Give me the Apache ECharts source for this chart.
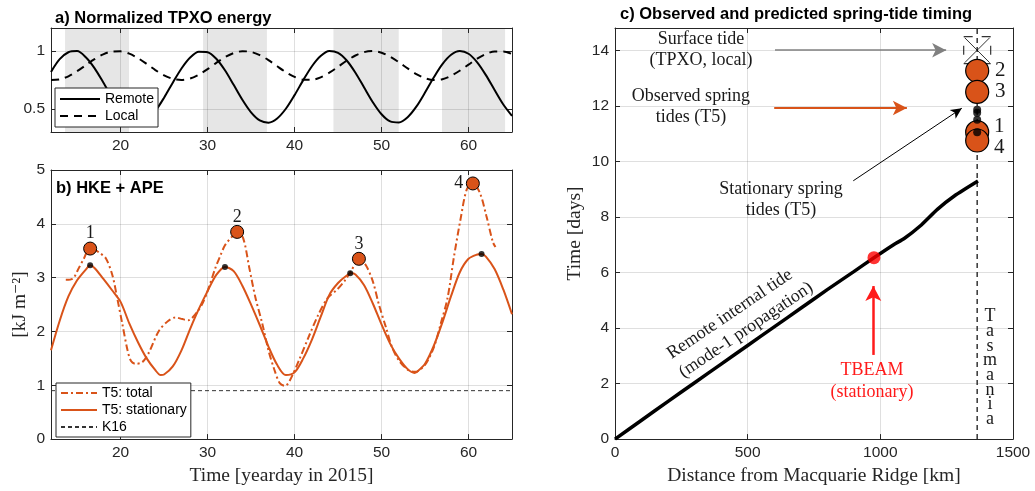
<!DOCTYPE html>
<html><head><meta charset="utf-8">
<script src="https://cdn.jsdelivr.net/npm/echarts@6/dist/echarts.min.js"></script>
<style>html,body{margin:0;padding:0;background:#fff}#c{width:1035px;height:491px}</style>
</head><body><div id="c"></div>
<script>
// ---------------- data ----------------
// a) normalized TPXO energy (yearday)
const tpxoDays = [12,13,14,15,16,17,18,19,20,21,22,23,24,25,26,27,28,29,30,31,32,33,34,35,36,37,38,39,40,41,42,43,44,45,46,47,48,49,50,51,52,53,54,55,56,57,58,59,60,61,62,63,64,65];
const remoteEnergy = [0.82,0.93,0.99,1.0,0.947,0.853,0.73,0.60,0.486,0.408,0.38,0.407,0.483,0.597,0.727,0.85,0.945,0.995,0.991,0.934,0.834,0.708,0.579,0.47,0.40,0.381,0.417,0.501,0.619,0.749,0.869,0.957,1.0,0.985,0.919,0.813,0.685,0.558,0.454,0.392,0.383,0.428,0.519,0.641,0.771,0.887,0.968,1.0,0.977,0.903,0.792,0.663,0.538,0.44];
const localEnergy = [0.751,0.756,0.782,0.826,0.878,0.930,0.972,0.996,0.998,0.978,0.939,0.889,0.836,0.790,0.760,0.750,0.763,0.797,0.844,0.898,0.947,0.983,0.999,0.993,0.966,0.922,0.869,0.818,0.777,0.753,0.752,0.773,0.813,0.864,0.917,0.962,0.991,1.0,0.986,0.951,0.903,0.850,0.801,0.766,0.750,0.757,0.786,0.831,0.883,0.935,0.975,0.997,0.997,0.975];
// shaded spring periods (yearday)
const bandStart = [13.64, 29.5, 44.5, 56.95];
const bandEnd   = [20.97, 36.8, 51.95, 64.2];
// b) HKE + APE [kJ m^-2]
const totalDays = [13.7,14.5,15.2,15.8,16.4,17,17.5,18.3,19.05,19.6,20.2,20.8,21.2,21.7,22.5,23.2,24.4,25.5,26.3,27.1,27.8,28.6,29.35,30,30.9,31.5,32,32.8,33.4,34.1,34.8,35.5,36.3,37,37.7,38.3,38.9,39.4,40.5,41.6,42.7,43.8,44.9,45.8,46.6,47.4,48.2,49,49.7,50.5,51.2,52,53.1,53.9,55,56,56.8,57.6,58.3,59.1,59.8,60.5,61.3,62.05,62.8,63.1];
const totalEnergy = [2.96,2.98,3.18,3.36,3.54,3.52,3.47,3.36,3.05,2.63,2.14,1.65,1.45,1.4,1.43,1.59,2.01,2.2,2.26,2.23,2.21,2.32,2.5,2.75,3.18,3.42,3.6,3.76,3.85,3.73,3.18,2.63,2.14,1.65,1.28,1.04,0.99,1.07,1.46,1.89,2.3,2.62,2.78,2.95,3.15,3.35,3.23,2.93,2.5,2.08,1.71,1.46,1.28,1.25,1.38,1.7,2.14,2.63,3.36,4.1,4.64,4.75,4.58,4.15,3.66,3.57];
const statDays = [12,13,14,15,16,16.5,17,18,19,20,21,22,23,24,24.6,25,26,27,28,29,30,31,32,33,34,35,36,37,38,39,40,41,42,43,44,45,46,46.5,47,48,49,50,51,52,53,53.8,54,55,56,57,58,59,60,61,61.5,62,63,64,65];
const statEnergy = [1.65,2.2,2.65,2.95,3.15,3.23,3.18,2.98,2.77,2.55,2.15,1.8,1.5,1.28,1.19,1.2,1.35,1.65,2.05,2.42,2.75,3.05,3.2,3.12,2.85,2.5,2.12,1.72,1.38,1.19,1.24,1.5,1.85,2.27,2.68,2.9,3.04,3.08,3.06,2.86,2.52,2.13,1.77,1.5,1.3,1.23,1.24,1.4,1.73,2.17,2.66,3.1,3.35,3.43,3.44,3.39,3.16,2.78,2.32];
const k16Level = 0.9;
const springLabels = ['1','2','3','4'];
const obsPeakDays = [16.5, 33.4, 47.4, 60.5];
const obsPeakEnergy = [3.54, 3.85, 3.35, 4.75];
const statPeakDays = [16.5, 32.0, 46.4, 61.5];
const statPeakEnergy = [3.23, 3.2, 3.08, 3.44];
// c) spring-tide timing
const modeDistance = [0,100,200,300,400,500,600,700,800,900,976,1050,1090,1150,1215,1280,1368];
const modeTime = [0,0.68,1.36,2.03,2.7,3.37,4.04,4.71,5.38,6.03,6.53,7.0,7.22,7.67,8.27,8.76,9.29];
const t5Distance = 1365;
const obsSpringTime = [11.05, 13.26, 12.5, 10.75];
const statSpringTime = [11.05, 11.86, 11.5, 11.75];
const surfaceTideTime = 14.0;
const tbeamDistance = 976, tbeamTime = 6.53;

// ---------------- style ----------------
const TXT = '#262626', ORANGE = '#D95319';
const SERIF = '"Liberation Serif","DejaVu Serif",serif';
const SANS = '"Liberation Sans",Arial,sans-serif';

function mkAxis(gridIndex, position, min, max, ticks, labelled, name, nameGap) {
  return {
    type:'value', gridIndex, position, min, max,
    name: name || '', nameLocation:'middle', nameGap: nameGap || 0,
    nameTextStyle:{color:TXT, fontFamily:SERIF, fontSize:19.5},
    axisLine:{show:true, onZero:false, lineStyle:{color:TXT, width:1}},
    axisTick:{show:true, inside:true, length:5, customValues:ticks, lineStyle:{color:TXT, width:1}},
    axisLabel:{show:labelled, customValues:ticks, color:TXT, fontFamily:SANS, fontSize:15.5, margin:6,
      formatter:(v)=>String(v)},
    splitLine:{show:labelled, lineStyle:{color:'rgba(38,38,38,0.15)', width:1}}
  };
}
const dayTicks = [20,30,40,50,60];
const xAxis = [
  mkAxis(0,'bottom',12,65,dayTicks,true),
  mkAxis(0,'top',12,65,dayTicks,false),
  mkAxis(1,'bottom',12,65,dayTicks,true,'Time [yearday in 2015]',24),
  mkAxis(1,'top',12,65,dayTicks,false),
  mkAxis(2,'bottom',0,1500,[0,500,1000,1500],true,'Distance from Macquarie Ridge [km]',23),
  mkAxis(2,'top',0,1500,[0,500,1000,1500],false)
];
const yAxis = [
  mkAxis(0,'left',0.3,1.2,[0.5,1],true),
  mkAxis(0,'right',0.3,1.2,[0.5,1],false),
  mkAxis(1,'left',0,5,[0,1,2,3,4,5],true,'[kJ m\u207B\u00B2]',21),
  mkAxis(1,'right',0,5,[0,1,2,3,4,5],false),
  mkAxis(2,'left',0,14.8,[0,2,4,6,8,10,12,14],true,'Time [days]',30),
  mkAxis(2,'right',0,14.8,[0,2,4,6,8,10,12,14],false)
];

const bandData = bandStart.map((s,i)=>[{xAxis:s},{xAxis:bandEnd[i]}]);
function bandSeries(ix){
  return {type:'line', name:'bands'+ix, xAxisIndex:ix, yAxisIndex:ix, data:[], z:-1, silent:true,
    markArea:{silent:true, z:-1, itemStyle:{color:'#e6e6e6'}, data:bandData}};
}
const pairs = (xs,ys)=>xs.map((x,i)=>[x,ys[i]]);

const textStyle = {show:true, position:'inside', color:'#1a1a1a', opacity:1, textBorderWidth:0, fontFamily:SERIF, fontSize:18, lineHeight:21, align:'center'};
function note(x,y,txt,extra){ return {value:[x,y], label:Object.assign({formatter:txt}, extra||{})}; }

const series = [
  bandSeries(0),
  {type:'line', name:'Remote', xAxisIndex:0, yAxisIndex:0, data:pairs(tpxoDays,remoteEnergy), symbol:'none', smooth:0.3,
   lineStyle:{color:'#000', width:2}, itemStyle:{color:'#000'}},
  {type:'line', name:'Local', xAxisIndex:0, yAxisIndex:0, data:pairs(tpxoDays,localEnergy), symbol:'none', smooth:0.3,
   lineStyle:{color:'#000', width:2, type:[8,6]}, itemStyle:{color:'#000'}},
  bandSeries(1),
  {type:'line', name:'T5: total', xAxisIndex:2, yAxisIndex:2, data:pairs(totalDays,totalEnergy), symbol:'none', smooth:0.3,
   lineStyle:{color:ORANGE, width:2, type:[7,3,2,3]}, itemStyle:{color:ORANGE}},
  {type:'line', name:'T5: stationary', xAxisIndex:2, yAxisIndex:2, data:pairs(statDays,statEnergy), symbol:'none', smooth:0.3,
   lineStyle:{color:ORANGE, width:2}, itemStyle:{color:ORANGE}},
  {type:'line', name:'K16', xAxisIndex:2, yAxisIndex:2, data:[[12,k16Level],[65,k16Level]], symbol:'none',
   lineStyle:{color:'#333', width:1, type:[4,3]}, itemStyle:{color:'#333'}},
  {type:'scatter', name:'obsPeaksB', xAxisIndex:2, yAxisIndex:2, z:6, symbolSize:13,
   itemStyle:{color:ORANGE, borderColor:'#000', borderWidth:1, opacity:1},
   data: obsPeakDays.map((d,i)=>({value:[d,obsPeakEnergy[i]], label:{show:true, formatter:springLabels[i], position:'inside',
     offset: i===3 ? [-14,0] : [0,-15], color:'#1a1a1a', textBorderWidth:0, fontFamily:SERIF, fontSize:18}}))},
  {type:'scatter', name:'statPeaksB', xAxisIndex:2, yAxisIndex:2, z:6, symbolSize:6,
   itemStyle:{color:'#000'}, data:pairs(statPeakDays,statPeakEnergy)},
  // panel c
  {type:'line', name:'Tasmania line', xAxisIndex:4, yAxisIndex:4, data:[[t5Distance,0],[t5Distance,14.8]], symbol:'none',
   lineStyle:{color:'#333', width:1.5, type:[5,4]}},
  {type:'line', name:'mode-1', xAxisIndex:4, yAxisIndex:4, data:pairs(modeDistance,modeTime), symbol:'none', smooth:0.2,
   lineStyle:{color:'#000', width:3.5}},
  {type:'line', name:'arrows', xAxisIndex:4, yAxisIndex:4, data:[], silent:true,
   markLine:{silent:true, animation:false, label:{show:false}, emphasis:{disabled:true},
     data:[
       [{coord:[603,surfaceTideTime], symbol:'none', lineStyle:{color:'#808080', width:1.5, type:'solid'}},
        {coord:[1248,surfaceTideTime], symbol:'arrow', symbolSize:[11,14]}],
       [{coord:[600,11.92], symbol:'none', lineStyle:{color:ORANGE, width:2, type:'solid'}},
        {coord:[1100,11.92], symbol:'arrow', symbolSize:[11,14]}],
       [{coord:[898,9.30], symbol:'none', lineStyle:{color:'#000', width:1, type:'solid'}},
        {coord:[1307,11.91], symbol:'arrow', symbolSize:[8,11]}],
       [{coord:[973.5,3.03], symbol:'none', lineStyle:{color:'#ff1a1a', width:2.5, type:'solid'}},
        {coord:[973.5,5.51], symbol:'arrow', symbolSize:[12,15]}]
     ]}},
  {type:'scatter', name:'surface box', xAxisIndex:4, yAxisIndex:4, z:6, symbol:'rect', symbolSize:27,
   itemStyle:{color:'rgba(255,255,255,0)', borderColor:'#000', borderWidth:1.2, borderType:[9,9]},
   data:[[t5Distance,surfaceTideTime]]},
  {type:'scatter', name:'surface x', xAxisIndex:4, yAxisIndex:4, z:6, symbol:'path://M0,0L10,10M10,0L0,10', symbolSize:25,
   itemStyle:{color:'none', borderColor:'#000', borderWidth:1}, data:[[t5Distance,surfaceTideTime]]},
  {type:'scatter', name:'obsPeaksC', xAxisIndex:4, yAxisIndex:4, z:7, symbolSize:23,
   itemStyle:{color:ORANGE, borderColor:'#000', borderWidth:1.2, opacity:1},
   data: obsSpringTime.map((t,i)=>({value:[t5Distance,t], label:{show:true, formatter:springLabels[i], position:'inside',
     offset: [[22,-6],[23,0],[23,0],[22,7]][i], color:'#1a1a1a', textBorderWidth:0, fontFamily:SERIF, fontSize:21}}))},
  {type:'scatter', name:'statPeaksC', xAxisIndex:4, yAxisIndex:4, z:8, symbolSize:8,
   itemStyle:{color:'#000'}, data: statSpringTime.map(t=>[t5Distance,t])},
  {type:'scatter', name:'tbeam', xAxisIndex:4, yAxisIndex:4, z:8, symbolSize:13,
   itemStyle:{color:'#ff0000'}, data:[[tbeamDistance,tbeamTime]]},
  {type:'scatter', name:'notes', xAxisIndex:4, yAxisIndex:4, z:9, symbolSize:1, silent:true,
   itemStyle:{color:'rgba(0,0,0,0)'}, label:textStyle,
   data:[
     note(324,14.0,'Surface tide\n(TPXO, local)'),
     note(286,11.96,'Observed spring\ntides (T5)'),
     note(626,8.61,'Stationary spring\ntides (T5)'),
     note(433,4.5,'Remote internal tide',{rotate:34}),
     note(494,3.93,'(mode-1 propagation)',{rotate:34}),
     note(969,2.1,'TBEAM\n(stationary)',{color:'#ff1a1a', lineHeight:22}),
     note(1413,2.56,'T\na\ns\nm\na\nn\ni\na',{lineHeight:14.7})
   ]}
];

const legendCommon = {orient:'vertical', itemHeight:14, itemGap:3, borderColor:TXT, borderWidth:1, backgroundColor:'#fff',
  selectedMode:false, itemStyle:{opacity:0}, textStyle:{fontFamily:SANS, fontSize:14, color:'#000'}};
const option = {
  animation:false,
  backgroundColor:'#fff',
  title:[
    {text:'a) Normalized TPXO energy', left:55, top:10, padding:0, textStyle:{fontFamily:SANS, fontWeight:'bold', fontSize:16.5, color:'#000'}},
    {text:'b) HKE + APE', left:56, top:180, padding:0, textStyle:{fontFamily:SANS, fontWeight:'bold', fontSize:16.5, color:'#000'}},
    {text:'c) Observed and predicted spring-tide timing', left:620, top:6, padding:0, textStyle:{fontFamily:SANS, fontWeight:'bold', fontSize:16.5, color:'#000'}}
  ],
  grid:[
    {left:51, top:28, width:461, height:104},
    {left:51, top:170, width:461, height:273},
    {left:615, top:28, width:398, height:415}
  ],
  legend:[
    Object.assign({data:['Remote','Local'], left:55, top:88, itemWidth:40, padding:[4,4,4,4]}, legendCommon),
    Object.assign({data:['T5: total','T5: stationary','K16'], left:56, top:383, itemWidth:36, padding:[3,4,3,4]}, legendCommon)
  ],
  xAxis, yAxis, series
};
const chart = echarts.init(document.getElementById('c'), null, {renderer:'canvas'});
chart.setOption(option);
</script></body></html>
